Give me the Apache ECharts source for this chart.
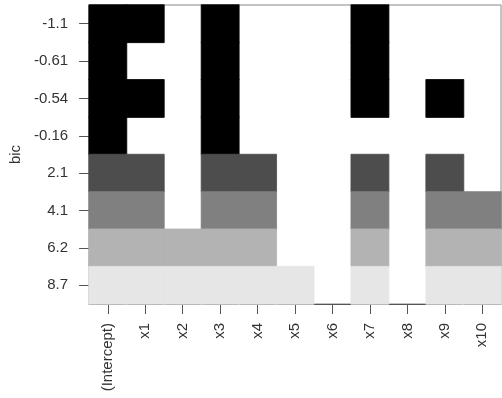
<!DOCTYPE html>
<html>
<head>
<meta charset="utf-8">
<script src="https://cdn.jsdelivr.net/npm/echarts@6/dist/echarts.min.js"></script>
<style>html,body{margin:0;padding:0;background:#fff;}#c{width:502px;height:398px;}</style>
</head>
<body>
<div id="c"></div>
<script>
// Model labels (bic values), top to bottom
const bicLabels = ['-1.1', '-0.61', '-0.54', '-0.16', '2.1', '4.1', '6.2', '8.7'];
// Variables (columns)
const variables = ['(Intercept)', 'x1', 'x2', 'x3', 'x4', 'x5', 'x6', 'x7', 'x8', 'x9', 'x10'];
// Inclusion of each variable in each model (1 = included)
const row_m1_1  = [1, 1, 0, 1, 0, 0, 0, 1, 0, 0, 0];
const row_m0_61 = [1, 0, 0, 1, 0, 0, 0, 1, 0, 0, 0];
const row_m0_54 = [1, 1, 0, 1, 0, 0, 0, 1, 0, 1, 0];
const row_m0_16 = [1, 0, 0, 1, 0, 0, 0, 0, 0, 0, 0];
const row_2_1   = [1, 1, 0, 1, 1, 0, 0, 1, 0, 1, 0];
const row_4_1   = [1, 1, 0, 1, 1, 0, 0, 1, 0, 1, 1];
const row_6_2   = [1, 1, 1, 1, 1, 0, 0, 1, 0, 1, 1];
const row_8_7   = [1, 1, 1, 1, 1, 1, 0, 1, 0, 1, 1];
// Shade level of each model row (0 = darkest)
const shadeLevel = [0, 0, 0, 0, 1, 2, 3, 4];

const rows = [row_m1_1, row_m0_61, row_m0_54, row_m0_16, row_2_1, row_4_1, row_6_2, row_8_7];
const palette = ['#000000', '#4d4d4d', '#808080', '#b3b3b3', '#e6e6e6'];

const data = [];
rows.forEach((r, yi) => {
  r.forEach((v, xi) => {
    if (v) data.push({
      value: [xi, yi, shadeLevel[yi]],
      itemStyle: {borderColor: palette[shadeLevel[yi]], borderWidth: 0.8}
    });
  });
});

const font = 'Liberation Sans, Arial, sans-serif';
const chart = echarts.init(document.getElementById('c'), null, {renderer: 'canvas'});
chart.setOption({
  animation: false,
  backgroundColor: '#fff',
  grid: {left: 87, right: 1, top: 5, bottom: 94, show: true, borderColor: '#888', borderWidth: 1, backgroundColor: 'transparent'},
  xAxis: {
    type: 'category',
    data: variables,
    axisLine: {show: true, lineStyle: {color: '#555'}},
    axisTick: {show: true, alignWithLabel: true, length: 10, lineStyle: {color: '#555'}},
    axisLabel: {rotate: 90, margin: 19, fontSize: 15, color: '#333', fontFamily: font, interval: 0},
    splitLine: {show: false}
  },
  yAxis: {
    type: 'category',
    data: bicLabels,
    inverse: true,
    name: 'bic',
    nameLocation: 'middle',
    nameGap: 66,
    nameRotate: 90,
    nameTextStyle: {fontSize: 15, color: '#333', fontFamily: font},
    axisLine: {show: false},
    axisTick: {show: true, alignWithLabel: true, length: 10, lineStyle: {color: '#555'}},
    axisLabel: {margin: 21, fontSize: 15, color: '#333', fontFamily: font, interval: 0},
    splitLine: {show: false}
  },
  visualMap: {
    type: 'piecewise',
    show: false,
    dimension: 2,
    pieces: palette.map((c, i) => ({value: i, color: c}))
  },
  series: [{
    type: 'heatmap',
    data: data,
    emphasis: {disabled: true}
  }]
});
</script>
</body>
</html>
